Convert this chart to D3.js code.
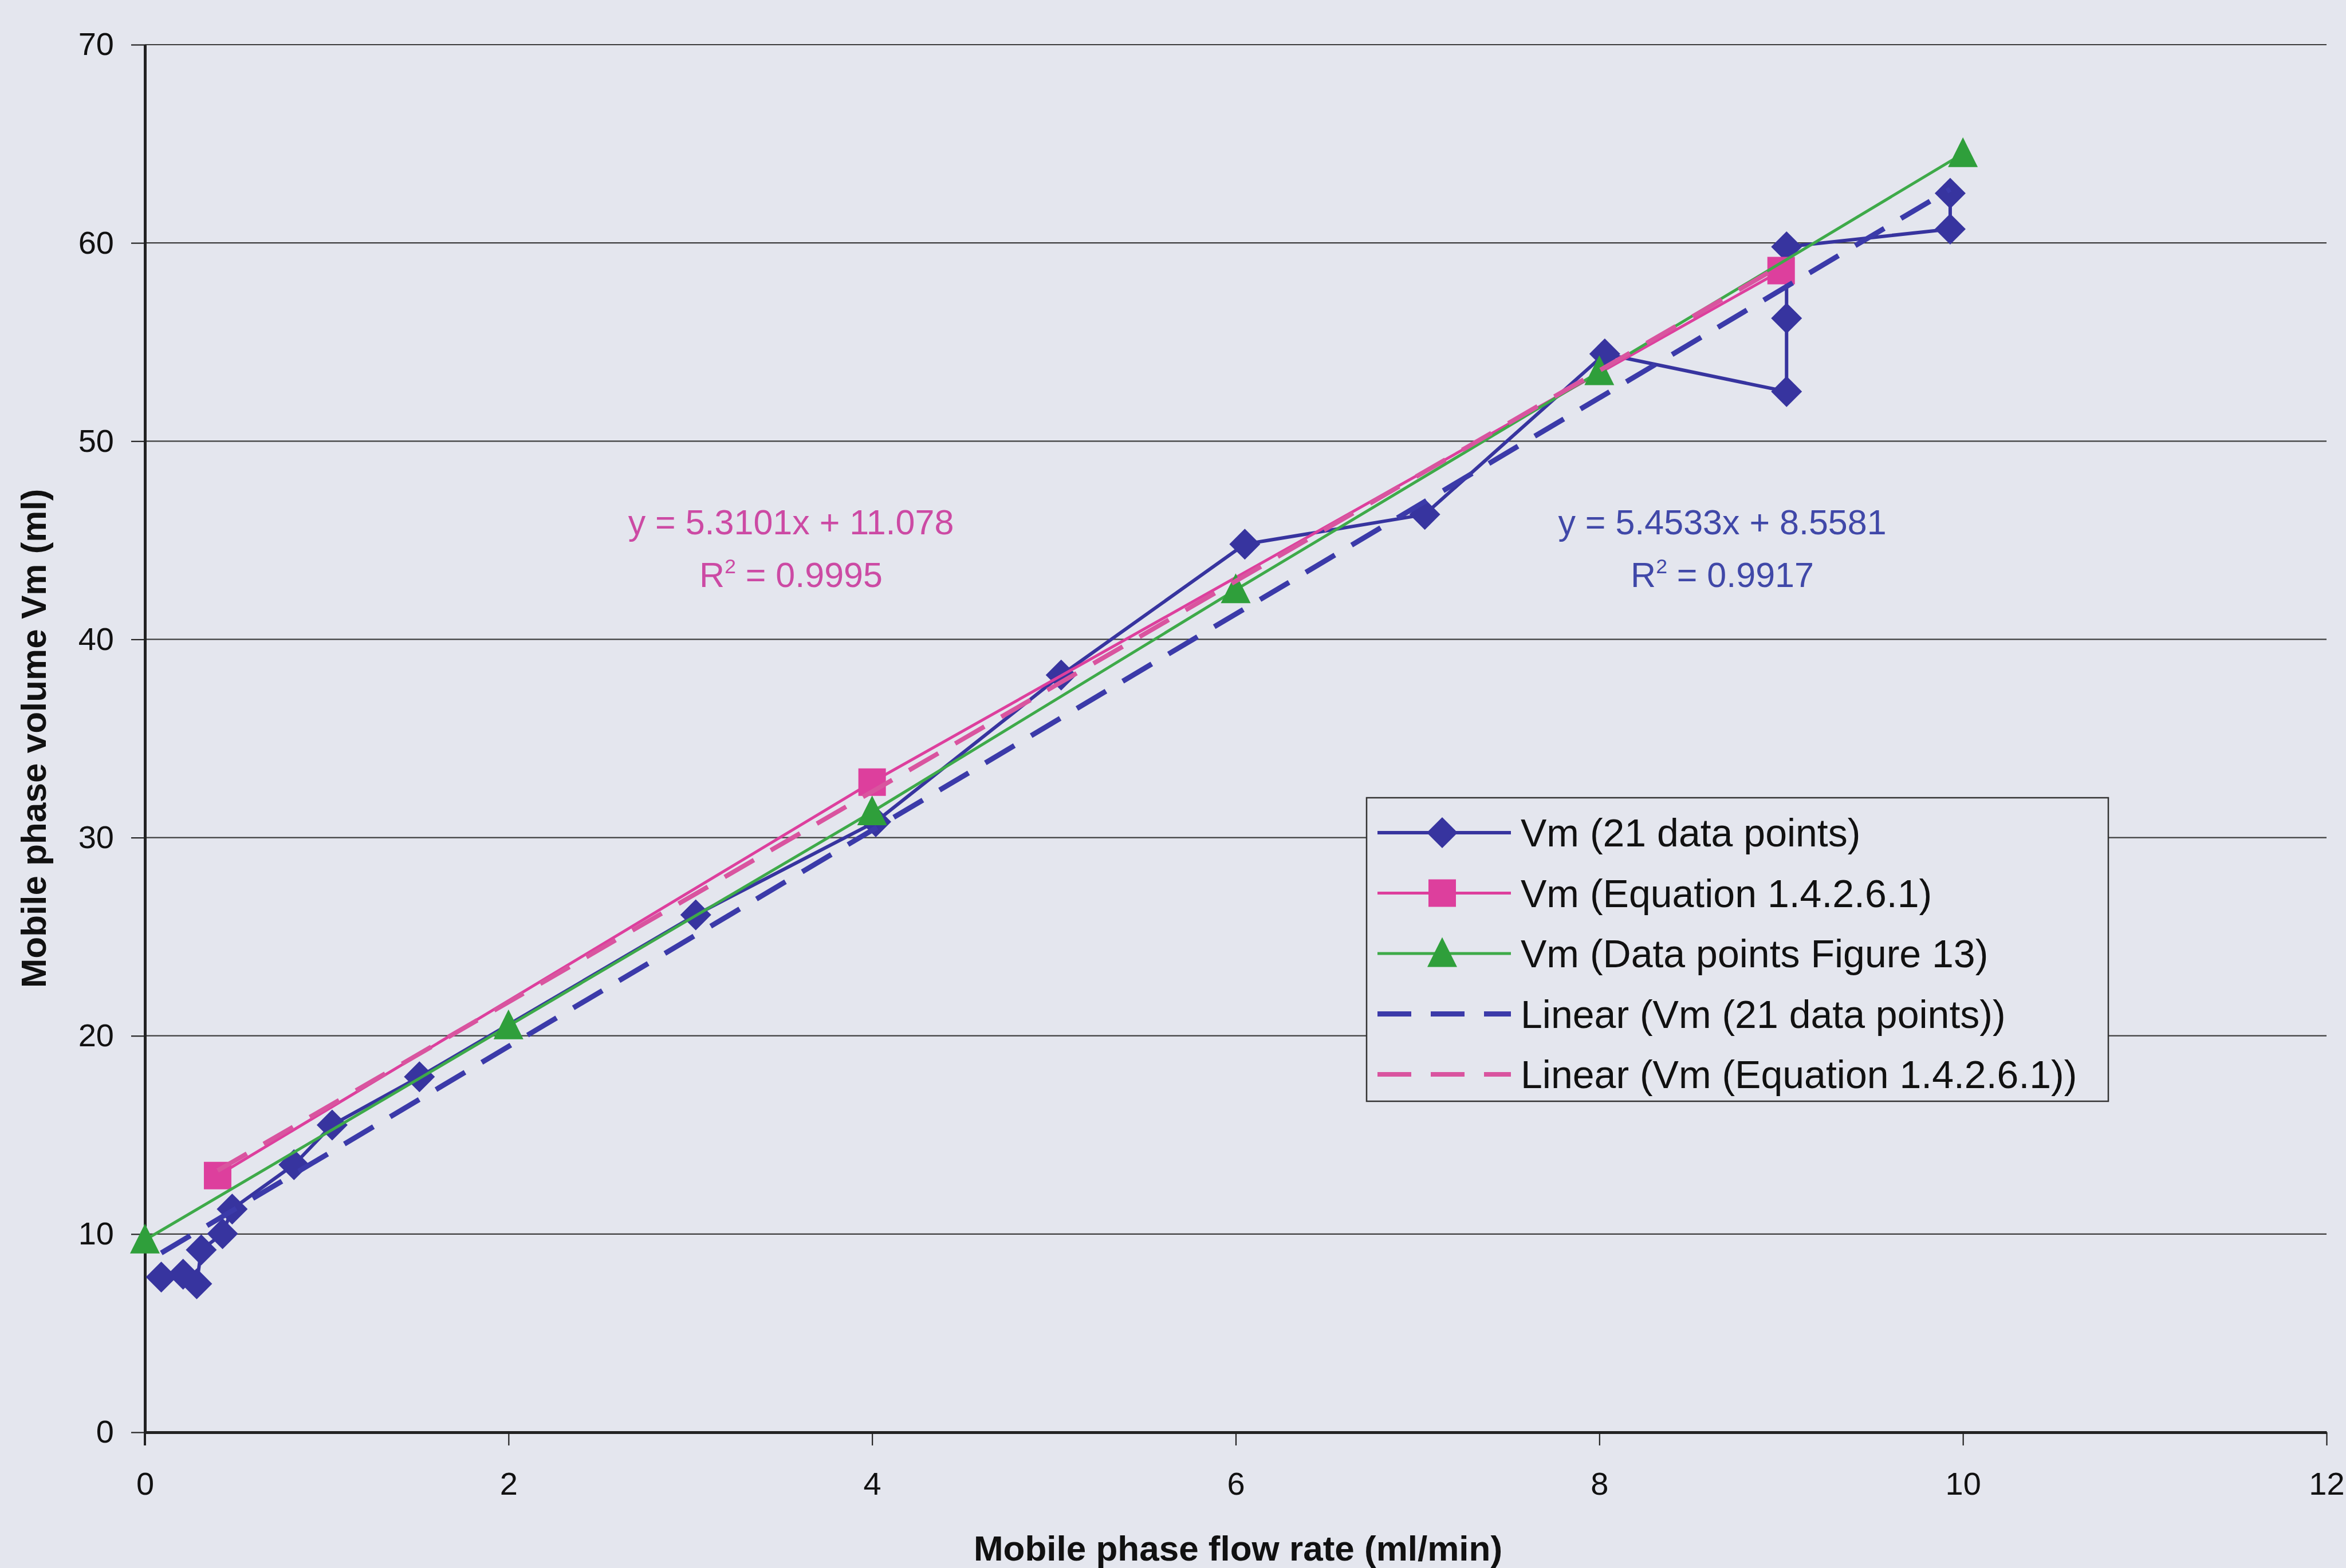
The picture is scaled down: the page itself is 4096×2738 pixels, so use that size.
<!DOCTYPE html>
<html>
<head>
<meta charset="utf-8">
<script src="https://cdn.jsdelivr.net/npm/d3@7"></script>
<style>
  html, body { margin: 0; padding: 0; background: #e4e6ee; }
  svg { display: block; font-family: "Liberation Sans", Arial, Helvetica, sans-serif; }
</style>
</head>
<body>
<svg id="chart" width="4096" height="2738"></svg>
<script>
// Mobile phase volume Vm (ml) against mobile phase flow rate (ml/min)

// Vm measured from 21 data points (listed in measurement order)
const vm21Flow   = [0.09, 0.21, 0.285, 0.31, 0.427, 0.48, 0.82, 1.03, 1.51, 3.03, 4.02, 5.04, 6.05, 7.04, 8.03, 9.03, 9.03, 9.03, 9.93, 9.93];
const vm21Volume = [7.83, 7.97, 7.49, 9.2, 10.02, 11.26, 13.5, 15.5, 17.93, 26.1, 30.8, 38.2, 44.8, 46.3, 54.4, 52.5, 56.2, 59.8, 60.7, 62.5];

// Vm from Equation 1.4.2.6.1
const eqFlow   = [0.4, 4, 9];
const eqVolume = [12.95, 32.8, 58.6];

// Vm from the data points of Figure 13
const fig13Flow   = [0, 2, 4, 6, 8, 10];
const fig13Volume = [9.7, 20.5, 31.3, 42.5, 53.5, 64.5];

// Linear trendlines: [slope, intercept, R squared]
const fit21 = [5.4533, 8.5581, 0.9917];
const fitEq = [5.3101, 11.078, 0.9995];

// Axis ticks and labels
const xTicks = [0, 2, 4, 6, 8, 10, 12];
const yTicks = [0, 10, 20, 30, 40, 50, 60, 70];
const xTitle = "Mobile phase flow rate (ml/min)";
const yTitle = "Mobile phase volume Vm (ml)";
const legendLabels = [
  "Vm (21 data points)",
  "Vm (Equation 1.4.2.6.1)",
  "Vm (Data points Figure 13)",
  "Linear (Vm (21 data points))",
  "Linear (Vm (Equation 1.4.2.6.1))"
];

// ---- colours ----
const BLUE = "#37349f", BLUE_DASH = "#3b3aa9";
const PINK = "#dd3f9d", PINK_DASH = "#d9549f";
const GREEN = "#2f9f3b", GREEN_LINE = "#3eaa49";
const GRID = "#3c3c3c", AXIS = "#222";
const FONT_TICK = 56, FONT_LEGEND = 68, FONT_EQ = 61, FONT_TITLE = 62;

const svg = d3.select("#chart");

const x = d3.scaleLinear().domain([0, 12]).range([253, 4062]);
const y = d3.scaleLinear().domain([0, 70]).range([2501, 78]);

// ---- marker shapes ----
const markerPath = {
  diamond: h => `M0,${-h}L${h},0L0,${h}L${-h},0Z`,
  square: s => `M${-s/2},${-s/2}h${s}v${s}h${-s}Z`,
  triangle: s => `M0,${-s*0.55}L${s/2},${s*0.45}L${-s/2},${s*0.45}Z`
};
const markerSize = { diamond: 27, square: 48, triangle: 52 };

// ---- gridlines ----
svg.append("g").selectAll("line")
  .data(yTicks.filter(v => v > 0))
  .join("line")
  .attr("x1", x(0)).attr("x2", x(12))
  .attr("y1", d => y(d)).attr("y2", d => y(d))
  .attr("stroke", GRID).attr("stroke-width", 2.2);

// ---- axes ----
const yAxis = svg.append("g")
  .attr("transform", `translate(${x(0)},0)`)
  .call(d3.axisLeft(y).tickValues(yTicks).tickSize(24).tickSizeOuter(0).tickPadding(30));
const xAxis = svg.append("g")
  .attr("transform", `translate(0,${y(0)})`)
  .call(d3.axisBottom(x).tickValues(xTicks).tickSize(23).tickSizeOuter(0).tickPadding(46));

[yAxis, xAxis].forEach(a => {
  a.select(".domain").attr("stroke", AXIS).attr("stroke-width", 5);
  a.selectAll(".tick line").attr("stroke", AXIS).attr("stroke-width", 2.2);
  a.selectAll(".tick text")
    .attr("fill", "#111")
    .attr("font-size", FONT_TICK)
    .attr("font-family", "'Liberation Sans', Arial, sans-serif");
});
// y axis continues down past the x axis, like the tick marks
svg.append("line")
  .attr("x1", x(0)).attr("x2", x(0))
  .attr("y1", y(0)).attr("y2", y(0) + 23)
  .attr("stroke", AXIS).attr("stroke-width", 4);

// ---- axis titles ----
svg.append("text")
  .attr("x", (x(0) + x(12)) / 2 + 4).attr("y", 2725)
  .attr("text-anchor", "middle")
  .attr("font-size", FONT_TITLE).attr("font-weight", "bold").attr("fill", "#111")
  .text(xTitle);
svg.append("text")
  .attr("transform", `translate(80,${(y(0) + y(70)) / 2}) rotate(-90)`)
  .attr("text-anchor", "middle")
  .attr("font-size", FONT_TITLE).attr("font-weight", "bold").attr("fill", "#111")
  .text(yTitle);

// ---- series ----
const lineGen = d3.line().x(d => x(d[0])).y(d => y(d[1]));

function drawSeries(flow, vol, color, lineColor, shape, width) {
  const pts = d3.zip(flow, vol);
  const g = svg.append("g");
  g.append("path").datum(pts)
    .attr("d", lineGen)
    .attr("fill", "none").attr("stroke", lineColor)
    .attr("stroke-width", width).attr("stroke-linejoin", "round");
  g.selectAll("path.mk").data(pts).join("path")
    .attr("class", "mk")
    .attr("transform", d => `translate(${x(d[0])},${y(d[1])})`)
    .attr("d", markerPath[shape](markerSize[shape]))
    .attr("fill", color);
}

drawSeries(vm21Flow, vm21Volume, BLUE, BLUE, "diamond", 6);
drawSeries(eqFlow, eqVolume, PINK, PINK, "square", 5);
drawSeries(fig13Flow, fig13Volume, GREEN, GREEN_LINE, "triangle", 5);

// ---- linear trendlines ----
function drawTrend(flow, fit, color, width) {
  const x0 = d3.min(flow), x1 = d3.max(flow);
  const pts = [[x0, fit[0] * x0 + fit[1]], [x1, fit[0] * x1 + fit[1]]];
  svg.append("path").datum(pts)
    .attr("d", lineGen)
    .attr("fill", "none").attr("stroke", color)
    .attr("stroke-width", width)
    .attr("stroke-dasharray", "59,34");
}
drawTrend(eqFlow, fitEq, PINK_DASH, 8);
drawTrend(vm21Flow, fit21, BLUE_DASH, 9);

// ---- trendline equations ----
function drawEquation(cx, fit, color) {
  const g = svg.append("g")
    .attr("fill", color).attr("font-size", FONT_EQ).attr("text-anchor", "middle");
  g.append("text").attr("x", cx).attr("y", 933)
    .text(`y = ${fit[0]}x + ${fit[1]}`);
  const t = g.append("text").attr("x", cx).attr("y", 1025);
  t.append("tspan").text("R");
  t.append("tspan").attr("font-size", FONT_EQ * 0.58).attr("dy", -24).text("2");
  t.append("tspan").attr("dy", 24).text(` = ${fit[2]}`);
}
drawEquation(1381, fitEq, "#cc4aa4");
drawEquation(3007, fit21, "#4048a8");

// ---- legend ----
const legend = svg.append("g");
legend.append("rect")
  .attr("x", 2386).attr("y", 1393)
  .attr("width", 3681 - 2386).attr("height", 1923 - 1393)
  .attr("fill", "#e4e6ee").attr("stroke", "#333").attr("stroke-width", 2.5);

const legendItems = [
  { color: BLUE, line: BLUE, shape: "diamond", dash: null, w: 6 },
  { color: PINK, line: PINK, shape: "square", dash: null, w: 5 },
  { color: GREEN, line: GREEN_LINE, shape: "triangle", dash: null, w: 5 },
  { color: BLUE_DASH, line: BLUE_DASH, shape: null, dash: "59,34", w: 9 },
  { color: PINK_DASH, line: PINK_DASH, shape: null, dash: "59,34", w: 8 }
];
const rowY = d3.scaleLinear().domain([0, 4]).range([1454, 1876]);
legendItems.forEach((it, i) => {
  const ry = rowY(i);
  legend.append("line")
    .attr("x1", 2405).attr("x2", 2638).attr("y1", ry).attr("y2", ry)
    .attr("stroke", it.line).attr("stroke-width", it.w)
    .attr("stroke-dasharray", it.dash);
  if (it.shape) {
    legend.append("path")
      .attr("transform", `translate(2518,${ry})`)
      .attr("d", markerPath[it.shape](markerSize[it.shape]))
      .attr("fill", it.color);
  }
  legend.append("text")
    .attr("x", 2655).attr("y", ry + FONT_LEGEND * 0.36)
    .attr("font-size", FONT_LEGEND).attr("fill", "#111")
    .text(legendLabels[i]);
});
</script>
</body>
</html>
